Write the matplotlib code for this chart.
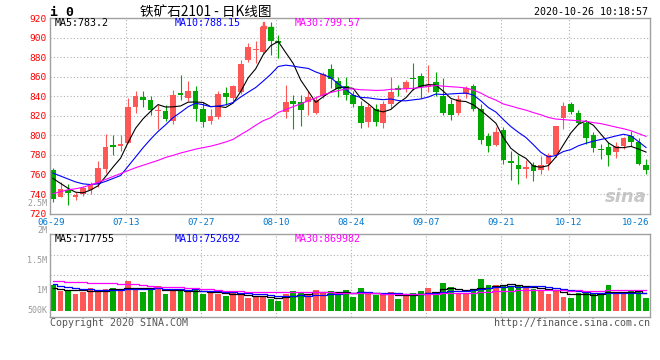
import numpy as np
import pandas as pd
import matplotlib
matplotlib.use("Agg")
import matplotlib.pyplot as plt
from matplotlib.patches import Rectangle

plt.rcParams["font.family"] = ["DejaVu Sans Mono"]

# daily candles, 2020-06-29 .. 2020-10-26
opens = [765, 737, 744, 737, 740, 744.5, 750.5, 766, 790, 789,
         792, 829, 839.5, 836, 825, 825, 815, 843, 838.4, 845,
         827.5, 814.5, 818.6, 843, 838.4, 844, 877.4, 887, 885, 911,
         896.6, 824, 835, 833.7, 833.7, 823.4, 840, 868, 856, 850,
         841, 830, 814, 827.5, 813, 832.3, 848.7, 847.3, 859, 860.7,
         849.7, 855, 840.5, 831.6, 823.4, 842, 850, 826.8, 799.5, 790,
         806, 773.8, 769.4, 766, 769.4, 764.2, 770.4, 779.6, 818, 832.6,
         823.4, 813, 800.8, 786.4, 788, 783, 789, 799.5, 793.3, 770]
highs = [767, 752, 750, 742, 748, 752, 773.5, 801, 800, 800,
         838, 845, 845, 840.5, 831, 831, 846, 862, 855.5, 850,
         834, 827, 845, 849, 852, 877, 894, 896, 916, 916,
         903, 851.5, 841, 841, 845, 840, 864.4, 872.6, 860, 860,
         845, 835, 832, 832, 835, 860, 851.4, 856.6, 873.7, 863.4,
         872, 864.4, 859, 837, 841, 851, 853, 831.6, 802, 808.7,
         808.7, 784, 780, 774.5, 772.8, 779, 782.3, 809.7, 834, 834.3,
         826, 815.5, 803.6, 791.6, 793, 793, 798.4, 805, 797.4, 775.5]
lows = [732, 737, 729, 734, 738, 740, 747, 762, 780, 784,
        792, 823, 829.5, 820.7, 807, 814.5, 812, 836, 835, 815,
        809, 812, 817, 831, 835, 842, 875, 874, 883, 882,
        879, 818, 807, 810, 821, 822, 838.4, 848.7, 839.5, 836,
        829, 808, 809, 810, 808, 828, 840.5, 844, 846.3, 838,
        844, 840.5, 821.3, 815.5, 821, 838.4, 825.4, 791.6, 783, 789,
        771, 754, 750.5, 756.4, 753.3, 760.8, 764.2, 778, 807, 822.4,
        812, 791.6, 783, 776, 768.7, 777, 786.4, 789, 770, 760.8]
closes = [735, 745, 741, 739, 746.6, 749, 767, 788, 788, 791.5,
          829, 840, 836.5, 826, 826, 816.6, 841, 841, 845.3, 827,
          814, 820, 842.6, 839, 850, 872.6, 890.4, 888.4, 911, 896,
          894.2, 834, 832.6, 826, 839.5, 836.7, 863, 857.5, 847, 841,
          831.6, 813, 829, 814, 832.6, 844, 846.3, 855, 857.3, 849.7,
          851.4, 844, 823.4, 820.7, 837, 848, 826.8, 795, 789, 803.6,
          774.5, 772, 765.3, 767.6, 763.2, 769.4, 780.3, 809.7, 830, 824,
          813, 797.4, 787, 784.7, 779.6, 789, 797.4, 793.3, 771, 764.2]
# volume, thousands of lots
volumes = [1050, 830, 859, 693, 776, 942, 859, 900, 942, 801,
           1233, 884, 776, 925, 1025, 693, 818, 818, 789, 900,
           693, 747, 693, 610, 801, 652, 527, 552, 610, 498,
           403, 693, 818, 776, 693, 859, 747, 818, 693, 859,
           569, 942, 693, 652, 693, 776, 486, 610, 735, 818,
           942, 776, 1150, 984, 735, 735, 900, 1316, 1067, 1067,
           1067, 1025, 1025, 942, 900, 859, 693, 859, 569, 527,
           735, 776, 693, 652, 1067, 693, 693, 818, 859, 527]

# moving-average values before enough history is on the chart
ma5_lead = [756, 751, 746, 742]
ma10_lead = [761.5, 758.5, 755.5, 752.5, 750.5, 749.8, 750.5, 753, 756]
ma30_lead = [740.5, 742.5, 744.5, 745.5, 747, 749.5, 752, 755, 758, 761,
             764, 767, 769.5, 772, 774.5, 777.5, 779.6, 782, 784, 786,
             787.5, 789, 791, 793.3, 796, 800.8, 805.3, 810.4, 815]
vma5_lead = [925, 885, 860, 845]
vma10_lead = [1107, 1040, 990, 940, 900, 885, 875, 865, 860]
vma30_lead = [1217, 1217, 1203, 1190, 1176, 1162, 1148, 1148, 1148, 1120,
              1107, 1093, 1065, 1024, 996, 982, 968, 968, 954, 941,
              900, 885, 858, 830, 816, 802, 789, 789, 775]

tick_idx = [0, 10, 20, 30, 40, 50, 60, 69, 79]
tick_labels = ["06-29", "07-13", "07-27", "08-10", "08-24", "09-07", "09-21", "10-12", "10-26"]
price_ticks = list(range(720, 921, 20))
vol_labels = ["2.5M", "2M", "1.5M", "1M", "500K"]


def moving(vals, n, lead):
    s = pd.Series(vals, dtype=float).rolling(n).mean()
    s.iloc[:len(lead)] = lead
    return s.values


ma5 = moving(closes, 5, ma5_lead)
ma10 = moving(closes, 10, ma10_lead)
ma30 = moving(closes, 30, ma30_lead)
vma5 = moving(volumes, 5, vma5_lead)
vma10 = moving(volumes, 10, vma10_lead)
vma30 = moving(volumes, 30, vma30_lead)

RED = "#ff5656"
GREEN = "#00a800"
GRID = "#b0b0b0"
FRAME = "#a0a0a0"

W, H = 660, 360
fig = plt.figure(figsize=(W / 100, H / 100), dpi=100)


def fx(px):
    return px / W


def fy(py):
    return 1 - py / H


ax = fig.add_axes([fx(50), fy(213.7), 600 / W, (213.7 - 18) / H])
axv = fig.add_axes([fx(50), fy(317.3), 600 / W, (317.3 - 234.3) / H])

x = np.arange(len(closes))
o = np.array(opens)
c = np.array(closes)
colors = np.where(c >= o, RED, GREEN)

# candles
ax.vlines(x, lows, highs, colors=colors, lw=0.8, zorder=2)
ax.bar(x, np.maximum(np.abs(c - o), 1.0), bottom=np.minimum(o, c),
       width=0.76, color=colors, linewidth=0, zorder=2)
ax.plot(x, ma5, color="black", lw=0.8, zorder=3)
ax.plot(x, ma10, color="#0000ff", lw=0.8, zorder=3)
ax.plot(x, ma30, color="#ff00ff", lw=0.8, zorder=3)

# volume
axv.bar(x, volumes, width=0.76, color=colors, linewidth=0, zorder=2)
axv.plot(x, vma5, color="black", lw=0.9, drawstyle="steps-mid", zorder=3)
axv.plot(x, vma10, color="#0000ff", lw=0.9, drawstyle="steps-mid", zorder=3)
axv.plot(x, vma30, color="#ff00ff", lw=0.9, drawstyle="steps-mid", zorder=3)

xlim = (-0.4, 79.53)
grid_x = [t - 0.3 for t in tick_idx[1:-1]]
for a in (ax, axv):
    a.set_xlim(*xlim)
    for gx in grid_x:
        a.axvline(gx, color=GRID, lw=0.8, ls=(0, (1, 2)), zorder=1)
    for sp in a.spines.values():
        sp.set_color(FRAME)
        sp.set_linewidth(1.0)

ax.set_ylim(720, 920)
ax.set_yticks(price_ticks)
ax.tick_params(axis="y", length=0, pad=2.5, labelsize=6.8, labelcolor="#ff0000")
for p in price_ticks[1:-1]:
    ax.axhline(p, color=GRID, lw=0.8, ls=(0, (1, 2)), zorder=1)

ax.set_xticks([t - 0.3 for t in tick_idx[:-1]] + [79.5])
ax.set_xticklabels(tick_labels)
ax.tick_params(axis="x", length=0, pad=3, labelsize=6.6, labelcolor="#0078d0")
ax.get_xticklabels()[-1].set_ha("right")

axv.set_ylim(-274, 3171)
axv.set_xticks([])
axv.set_yticks([])
for lv in (1482, 2312):
    axv.axhline(lv, color=GRID, lw=0.8, ls=(0, (1, 2)), zorder=1)

# volume scale labels, as placed by the source chart
for lab, py in zip(vol_labels, [203.5, 230.5, 260.7, 290.7, 310.7]):
    fig.text(fx(47), fy(py), lab, ha="right", va="center", fontsize=6.0, color="#999999")

# header
fig.text(fx(50), fy(12), "i 0", ha="left", va="center", fontsize=9.5, fontweight="bold")
fig.text(fx(140), fy(12), "铁矿石2101 - 日K线图", ha="left", va="center", fontsize=9.8,
         family=["Noto Sans CJK SC", "DejaVu Sans"])
fig.text(fx(648), fy(12), "2020-10-26 10:18:57", ha="right", va="center", fontsize=7.2)

# small up/down candle icon in the header
fig.patches.append(Rectangle((fx(261), fy(28)), 5 / W, 2 / H, transform=fig.transFigure, color=RED))
fig.patches.append(Rectangle((fx(263), fy(28)), 1 / W, 6 / H, transform=fig.transFigure, color=RED))
fig.patches.append(Rectangle((fx(268), fy(29)), 5 / W, 2 / H, transform=fig.transFigure, color=GREEN))

fig.text(fx(55), fy(23.5), "MA5:783.2", ha="left", va="center", fontsize=7.2, color="black")
fig.text(fx(175), fy(23.5), "MA10:788.15", ha="left", va="center", fontsize=7.2, color="#0000ff")
fig.text(fx(295), fy(23.5), "MA30:799.57", ha="left", va="center", fontsize=7.2, color="#ff00ff")

fig.text(fx(55), fy(238.5), "MA5:717755", ha="left", va="center", fontsize=7.2, color="black")
fig.text(fx(175), fy(238.5), "MA10:752692", ha="left", va="center", fontsize=7.2, color="#0000ff")
fig.text(fx(295), fy(238.5), "MA30:869982", ha="left", va="center", fontsize=7.2, color="#ff00ff")

# footer
fig.text(fx(50), fy(323.5), "Copyright 2020 SINA.COM", ha="left", va="center", fontsize=7.2, color="#555555")
fig.text(fx(650), fy(323.5), "http://finance.sina.com.cn", ha="right", va="center", fontsize=7.2, color="#555555")

# watermark
ax.text(0.995, 0.04, "sina", transform=ax.transAxes, ha="right", va="bottom",
        fontsize=13, fontweight="bold", style="italic", color="#c8c8c8", family="DejaVu Sans", zorder=0)

fig.savefig("out.png", dpi=100, facecolor="white")
